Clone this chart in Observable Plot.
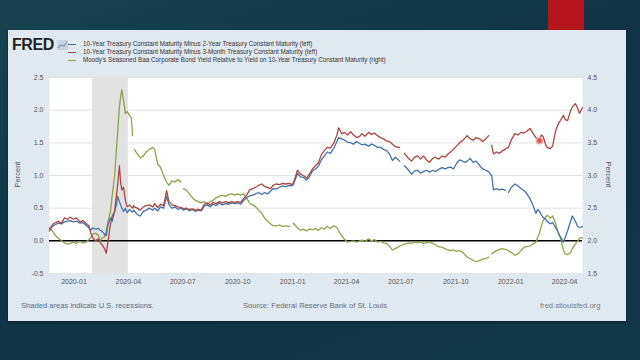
<!DOCTYPE html>
<html><head><meta charset="utf-8">
<script src="https://cdn.jsdelivr.net/npm/d3@7"></script>
<script src="https://cdn.jsdelivr.net/npm/@observablehq/plot@0.6"></script>
<style>
html,body{margin:0;padding:0;width:640px;height:360px;overflow:hidden;}
body{position:relative;background:linear-gradient(160deg,#18434f 0%,#0f3443 45%,#113847 100%);font-family:"Liberation Sans",Arial,sans-serif;}
#redbar{position:absolute;left:548px;top:0;width:36px;height:32px;background:#b5161c;}
#card{position:absolute;left:8px;top:30px;width:618px;height:291px;background:#e1e9f0;box-shadow:0 1px 2px rgba(0,0,0,.45);}
#chart{position:absolute;left:0;top:0;}
.t{position:absolute;white-space:nowrap;}
#logo{left:12px;top:36px;font-weight:bold;font-size:16px;color:#222;letter-spacing:-0.4px;}
.leg{left:68px;font-size:6.3px;color:#333;}
.sw{display:inline-block;width:8px;height:1.5px;vertical-align:middle;margin-right:7px;}
.foot{top:301px;font-size:7.6px;}
.pct{font-size:7.5px;color:#555;}
</style></head>
<body>
<div id="redbar"></div>
<div id="card"></div>
<div id="chart"></div>
<div class="t" id="logo">FRED<svg width="11" height="10" style="margin-left:3px;vertical-align:top;margin-top:4px"><rect x="0" y="0" width="11" height="10" fill="#c8d3de"/><polyline points="1,8 4,5 7,6 10,2" fill="none" stroke="#7f9bb8" stroke-width="1.2"/></svg></div>
<div id="legend"></div>
<div class="t foot" style="left:21px;color:#4d6f96;">Shaded areas indicate U.S. recessions.</div>
<div class="t foot" style="left:243px;color:#6f6f6f;">Source: Federal Reserve Bank of St. Louis</div>
<div class="t foot" style="left:540px;color:#7a7a7a;">fred.stlouisfed.org</div>
<div class="t pct" style="left:5px;top:170px;transform:rotate(-90deg);">Percent</div>
<div class="t pct" style="left:596px;top:170px;transform:rotate(90deg);">Percent</div>
<script>
const seriesNames = [
  "10-Year Treasury Constant Maturity Minus 2-Year Treasury Constant Maturity (left)",
  "10-Year Treasury Constant Maturity Minus 3-Month Treasury Constant Maturity (left)",
  "Moody's Seasoned Baa Corporate Bond Yield Relative to Yield on 10-Year Treasury Constant Maturity (right)"
];
const seriesColors = ["#4572a7", "#aa4643", "#89a54e"];

const dates = ["2019-11-21","2019-11-26","2019-12-01","2019-12-06","2019-12-11","2019-12-16","2019-12-21","2019-12-26","2019-12-31","2020-01-05",
"2020-01-11","2020-01-16","2020-01-21","2020-01-26","2020-01-29","2020-02-01","2020-02-06","2020-02-11","2020-02-14","2020-02-17",
"2020-02-21","2020-02-24","2020-02-27","2020-03-02","2020-03-05","2020-03-09","2020-03-12","2020-03-14","2020-03-17","2020-03-19",
"2020-03-21","2020-03-24","2020-03-27","2020-03-30","2020-04-03","2020-04-06","2020-04-08","2020-04-10","2020-04-11","2020-04-16",
"2020-04-21","2020-04-26","2020-05-01","2020-05-06","2020-05-12","2020-05-15","2020-05-20","2020-05-25","2020-05-30","2020-06-04",
"2020-06-08","2020-06-13","2020-06-18","2020-06-23","2020-06-28","2020-07-01","2020-07-02","2020-07-07","2020-07-12","2020-07-17",
"2020-07-22","2020-07-27","2020-08-01","2020-08-06","2020-08-11","2020-08-16","2020-08-21","2020-08-26","2020-08-31","2020-09-05",
"2020-09-11","2020-09-16","2020-09-21","2020-09-26","2020-10-01","2020-10-06","2020-10-11","2020-10-16","2020-10-21","2020-10-26",
"2020-10-31","2020-11-05","2020-11-10","2020-11-15","2020-11-20","2020-11-25","2020-11-29","2020-12-04","2020-12-10","2020-12-15",
"2020-12-20","2020-12-27","2020-12-30","2021-01-02","2021-01-09","2021-01-14","2021-01-19","2021-01-24","2021-01-29","2021-02-03",
"2021-02-08","2021-02-13","2021-02-18","2021-02-23","2021-02-28","2021-03-05","2021-03-11","2021-03-16","2021-03-19","2021-03-24",
"2021-03-29","2021-04-03","2021-04-08","2021-04-13","2021-04-18","2021-04-23","2021-04-27","2021-05-02","2021-05-08","2021-05-13",
"2021-05-18","2021-05-23","2021-05-28","2021-06-02","2021-06-07","2021-06-12","2021-06-17","2021-06-22","2021-06-29","2021-07-04",
"2021-07-07","2021-07-14","2021-07-19","2021-07-24","2021-07-29","2021-08-03","2021-08-08","2021-08-13","2021-08-18","2021-08-23",
"2021-08-28","2021-09-02","2021-09-08","2021-09-13","2021-09-18","2021-09-22","2021-09-27","2021-10-02","2021-10-07","2021-10-12",
"2021-10-17","2021-10-20","2021-10-25","2021-10-30","2021-11-04","2021-11-10","2021-11-15","2021-11-20","2021-11-25","2021-11-28",
"2021-11-30","2021-12-03","2021-12-08","2021-12-13","2021-12-18","2021-12-23","2021-12-25","2021-12-28","2022-01-02","2022-01-08",
"2022-01-13","2022-01-18","2022-01-23","2022-01-28","2022-02-02","2022-02-07","2022-02-12","2022-02-15","2022-02-18","2022-02-21",
"2022-02-24","2022-02-28","2022-03-03","2022-03-08","2022-03-12","2022-03-17","2022-03-22","2022-03-25","2022-03-30","2022-04-02",
"2022-04-06","2022-04-11","2022-04-14","2022-04-19","2022-04-23","2022-04-26","2022-05-01"];

// 10Y minus 2Y (left axis)
const blue = [0.18,0.22,0.25,0.27,0.26,0.29,0.30,0.31,0.29,0.30,
0.27,0.28,0.24,0.20,0.16,0.20,0.18,0.19,0.16,0.15,
0.10,0.08,0.25,0.35,0.30,0.45,0.55,0.68,0.60,0.55,
0.50,0.45,0.50,0.43,0.48,0.45,0.44,0.47,0.46,0.40,
0.38,0.45,0.47,0.50,0.47,0.50,0.46,0.52,0.50,0.68,
0.55,0.50,0.52,0.48,0.50,0.48,0.47,0.49,0.46,0.48,
0.45,0.47,0.46,0.53,0.55,0.52,0.56,0.54,0.58,0.55,
0.57,0.56,0.58,0.57,0.58,0.56,0.62,0.66,0.69,0.70,
0.72,0.74,0.71,0.74,0.72,0.76,0.80,0.79,0.82,0.84,
0.83,0.85,0.84,0.86,1.03,0.98,0.97,0.93,0.98,1.07,
1.10,1.14,1.24,1.30,1.36,1.34,1.42,1.52,1.58,1.56,
1.54,1.51,1.50,1.48,1.52,1.49,1.47,1.48,1.45,1.48,
1.46,1.43,1.43,1.40,1.38,1.33,1.23,1.28,1.22,null,
1.15,1.08,1.02,1.07,1.08,1.04,1.06,1.08,1.05,1.08,
1.06,1.09,1.12,1.10,1.12,1.13,1.10,1.18,1.24,1.22,
1.20,1.22,1.26,1.20,1.22,1.15,1.10,1.08,1.06,1.02,
1.00,0.78,0.80,0.78,0.79,0.77,null,0.74,0.82,0.87,
0.84,0.80,0.77,0.72,0.65,0.55,0.42,0.48,0.45,0.40,
0.36,0.33,0.30,0.26,0.28,0.20,0.12,0.06,-0.02,0.05,
0.15,0.30,0.38,0.30,0.22,0.20,0.22];

// 10Y minus 3M (left axis)
const red = [0.15,0.25,0.28,0.30,0.27,0.35,0.33,0.36,0.33,0.35,
0.29,0.31,0.27,0.23,0.12,0.05,0.00,0.03,-0.03,-0.06,
-0.12,-0.19,0.00,0.25,0.38,0.45,0.70,0.85,1.15,0.90,
0.78,0.82,0.62,0.52,0.55,0.52,0.50,0.54,0.52,0.50,
0.47,0.52,0.54,0.55,0.52,0.57,0.51,0.56,0.54,0.77,
0.60,0.55,0.54,0.52,0.51,0.50,0.49,0.50,0.48,0.49,
0.47,0.48,0.47,0.56,0.58,0.55,0.59,0.57,0.60,0.58,
0.60,0.58,0.60,0.59,0.60,0.59,0.65,0.70,0.78,0.80,
0.82,0.85,0.87,0.83,0.82,0.80,0.85,0.87,0.86,0.88,
0.87,0.88,0.86,0.88,1.08,1.02,1.00,0.96,1.02,1.10,
1.15,1.19,1.32,1.38,1.43,1.42,1.50,1.62,1.73,1.64,
1.66,1.62,1.67,1.62,1.58,1.60,1.64,1.60,1.66,1.63,
1.65,1.61,1.58,1.56,1.53,1.52,1.48,1.44,1.43,null,
1.34,1.26,1.22,1.28,1.30,1.25,1.30,1.24,1.20,1.26,
1.28,1.25,1.30,1.28,1.33,1.36,1.40,1.45,1.50,1.53,
1.58,1.61,1.56,1.54,1.58,1.56,1.52,1.56,1.61,null,
1.46,1.33,1.36,1.34,1.38,1.40,1.42,1.43,1.55,1.64,
1.62,1.66,1.65,1.68,1.72,1.65,1.58,1.55,1.53,1.62,
1.60,1.48,1.43,1.41,1.45,1.68,1.80,1.84,1.92,1.86,
1.84,1.99,2.05,2.10,2.03,1.95,2.04];

// Baa minus 10Y (right axis)
const green = [2.20,2.15,2.08,2.04,2.00,1.97,1.95,1.96,1.98,1.96,
1.99,1.97,1.98,2.02,2.05,2.10,2.12,2.08,2.00,2.04,
2.06,2.15,2.30,2.45,2.70,3.00,3.40,3.65,4.05,4.20,
4.31,4.15,3.95,3.98,3.92,3.88,3.61,null,3.40,3.33,
3.27,3.30,3.36,3.40,3.43,3.40,3.18,3.12,3.00,2.90,
2.85,2.92,2.90,2.94,2.90,null,2.80,2.78,2.72,2.66,
2.62,2.60,2.58,2.60,2.56,2.60,2.62,2.66,2.68,2.70,
2.68,2.71,2.72,2.70,2.72,2.70,2.72,2.65,2.58,2.55,
2.52,2.47,2.42,2.35,2.30,2.26,2.23,2.23,2.24,2.22,
2.23,2.22,null,2.27,2.20,2.16,2.18,2.15,2.18,2.17,
2.19,2.16,2.20,2.18,2.22,2.19,2.23,2.20,2.15,2.08,
2.02,1.98,1.99,2.00,1.98,2.00,2.01,1.99,2.03,2.00,
2.02,1.98,1.99,1.97,1.96,1.92,1.86,1.88,1.92,1.94,
1.95,1.97,1.96,1.98,1.97,1.98,1.96,1.97,1.98,1.96,
1.94,1.91,1.90,1.88,1.86,1.85,1.86,1.84,1.85,1.83,
1.78,1.75,1.73,1.70,1.68,1.70,1.72,1.73,1.75,null,
1.80,1.82,1.85,1.87,1.88,1.87,1.86,1.85,1.82,1.78,
1.80,1.85,1.90,1.91,1.92,1.95,1.98,2.05,2.12,2.22,
2.31,2.36,2.39,2.35,2.38,2.27,2.10,2.05,1.86,1.80,
1.79,1.82,1.88,1.95,2.00,2.04,2.05];

const xDomain = ["2019-11-21", "2022-05-01"];
const xTicks = ["2020-01-01","2020-04-01","2020-07-01","2020-10-01","2021-01-01","2021-04-01","2021-07-01","2021-10-01","2022-01-01","2022-04-01"];
const yTicks = [-0.5, 0, 0.5, 1, 1.5, 2, 2.5];
const rightOffset = 2; // right axis = left axis + 2
const recessionStart = ["2020-02-01"];
const recessionEnd = ["2020-04-01"];
const markerDate = ["2022-02-18"];
const markerValue = [1.53];

const parse = d3.utcParse("%Y-%m-%d");
const rows = dates.map((d, i) => ({
  date: parse(d),
  blue: blue[i],
  red: red[i],
  green: green[i] == null ? null : green[i] - rightOffset
}));
const rec = recessionStart.map((s, i) => ({start: parse(s), end: parse(recessionEnd[i])}));
const marker = markerDate.map((d, i) => ({date: parse(d), value: markerValue[i]}));

const chart = Plot.plot({
  width: 640, height: 360,
  marginLeft: 49, marginRight: 58, marginTop: 77, marginBottom: 87,
  style: {background: "transparent", fontFamily: "'Liberation Sans', Arial, sans-serif", fontSize: "7px", color: "#555"},
  x: {type: "utc", domain: xDomain.map(parse)},
  y: {domain: [-0.5, 2.5]},
  marks: [
    Plot.frame({fill: "white", stroke: null}),
    Plot.rect(rec, {x1: "start", x2: "end", fill: "#e2e2e2"}),
    Plot.gridY(yTicks, {stroke: "#e3e3e3", strokeOpacity: 1}),
    Plot.ruleY([0], {stroke: "black", strokeWidth: 1.5}),
    Plot.lineY(rows, {x: "date", y: "green", stroke: seriesColors[2], strokeWidth: 1.3}),
    Plot.lineY(rows, {x: "date", y: "blue", stroke: seriesColors[0], strokeWidth: 1.3}),
    Plot.lineY(rows, {x: "date", y: "red", stroke: seriesColors[1], strokeWidth: 1.3}),
    Plot.dot(marker, {x: "date", y: "value", r: 3, fill: "#d9534f", stroke: "#f2a0a0", strokeWidth: 1.5}),
    Plot.axisX(xTicks.map(parse), {tickFormat: d3.utcFormat("%Y-%m"), tickSize: 0, tickPadding: 6, label: null}),
    Plot.axisY(yTicks, {anchor: "left", tickSize: 0, tickPadding: 6, tickFormat: d => d.toFixed(1), label: null}),
    Plot.axisY(yTicks, {anchor: "right", tickSize: 0, tickPadding: 5, tickFormat: d => (d + rightOffset).toFixed(1), label: null})
  ]
});
document.getElementById("chart").append(chart);

const legend = document.getElementById("legend");
seriesNames.forEach((name, i) => {
  const div = document.createElement("div");
  div.className = "t leg";
  div.style.top = (40 + i * 8) + "px";
  div.innerHTML = `<span class="sw" style="background:${seriesColors[i]}"></span>` + name;
  legend.append(div);
});
</script>
</body></html>
